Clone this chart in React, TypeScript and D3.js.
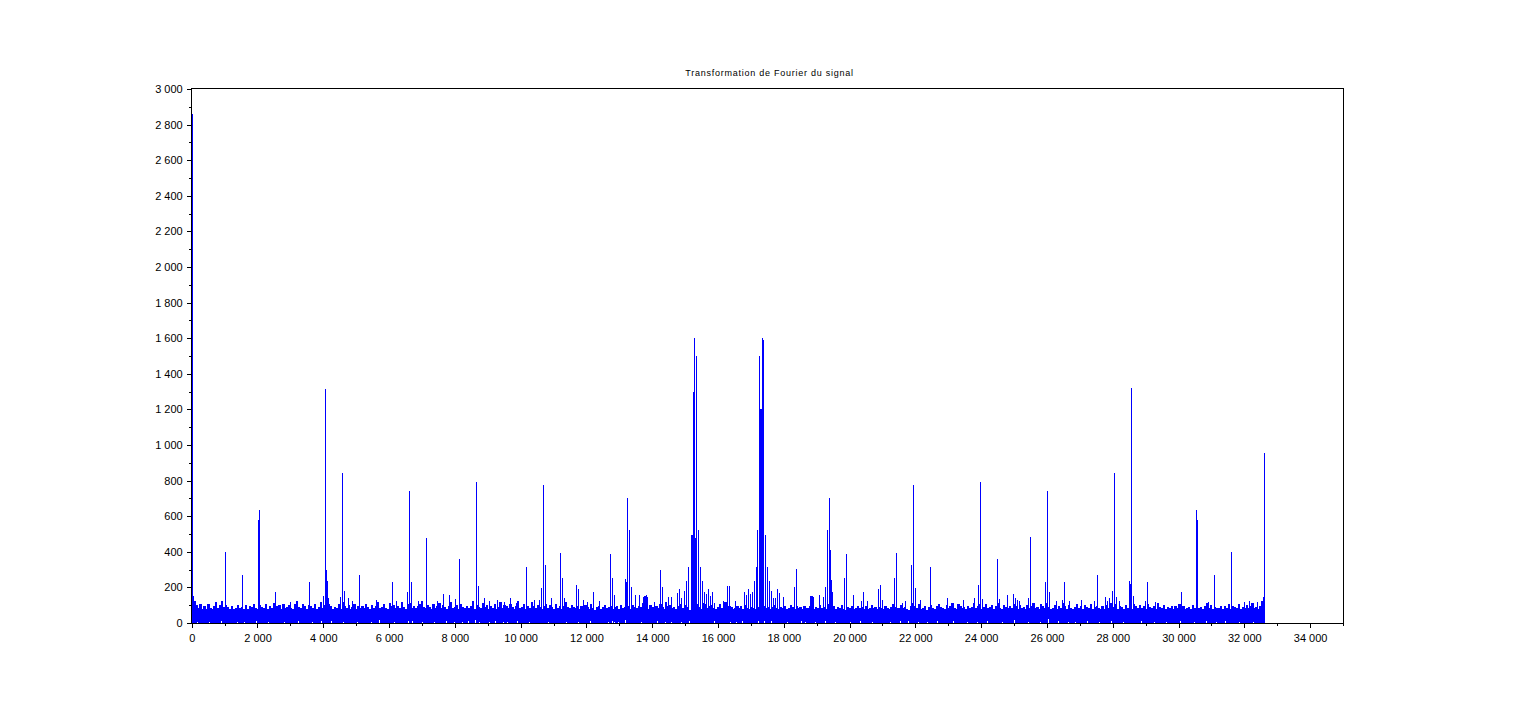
import React, { useEffect, useRef } from 'react';
import * as d3 from 'd3';

const title = 'Transformation de Fourier du signal';
const xTicks = [0, 2000, 4000, 6000, 8000, 10000, 12000, 14000, 16000, 18000, 20000, 22000, 24000, 26000, 28000, 30000, 32000, 34000];
const xMinorTicks = [1000, 3000, 5000, 7000, 9000, 11000, 13000, 15000, 17000, 19000, 21000, 23000, 25000, 27000, 29000, 31000, 33000, 35000];
const yTicks = [0, 200, 400, 600, 800, 1000, 1200, 1400, 1600, 1800, 2000, 2200, 2400, 2600, 2800, 3000];
const yMinorTicks = [100, 300, 500, 700, 900, 1100, 1300, 1500, 1700, 1900, 2100, 2300, 2500, 2700, 2900];

// top of the noise band, one reading every binStep Hz
const binStep = 60;
const noiseTop = [
  150, 122, 100, 84, 104, 78, 94, 80, 106, 86, 76, 98, 118, 82, 102, 124, 92, 100, 88, 80,
  94, 78, 86, 100, 82, 92, 76, 102, 80, 96, 88, 106, 84, 78, 100, 92, 82, 104, 76, 94,
  86, 110, 80, 96, 102, 78, 108, 84, 92, 100, 86, 80, 104, 122, 90, 82, 106, 94, 78, 102,
  96, 84, 108, 80, 92, 116, 86, 100, 82, 104, 94, 78, 92, 86, 104, 80, 118, 96, 84, 102,
  80, 92, 106, 78, 98, 86, 94, 82, 108, 90, 78, 102, 84, 96, 118, 82, 92, 104, 86, 80,
  114, 94, 102, 82, 96, 86, 116, 92, 80, 104, 110, 86, 98, 82, 94, 108, 122, 90, 84, 100,
  92, 80, 104, 86, 96, 110, 82, 100, 88, 78, 94, 118, 84, 92, 102, 80, 108, 90, 82, 98,
  86, 94, 122, 80, 100, 92, 84, 114, 88, 102, 80, 96, 86, 108, 78, 92, 118, 84, 100, 94,
  82, 104, 90, 78, 96, 124, 84, 92, 106, 80, 98, 86, 118, 94, 82, 102, 88, 80, 96, 108,
  84, 100, 92, 78, 104, 86, 96, 80, 94, 118, 88, 82, 102, 92, 84, 98, 80, 94, 86, 100,
  92, 78, 104, 84, 72, 90, 96, 80, 88, 102, 82, 92, 98, 80, 88, 94, 78, 100, 84, 92,
  86, 96, 80, 100, 88, 82, 98, 92, 112, 84, 96, 80, 102, 90, 78, 94, 86, 108, 92, 80,
  118, 96, 102, 84, 90, 78, 96, 106, 86, 82, 100, 92, 72, 82, 94, 84, 104, 92, 80, 114,
  108, 86, 96, 100, 82, 78, 92, 106, 84, 90, 118, 82, 98, 92, 80, 84, 96, 86, 94, 80,
  100, 84, 76, 92, 86, 80, 96, 88, 78, 84, 94, 82, 92, 80, 88, 100, 84, 78, 92, 86,
  96, 80, 84, 102, 88, 78, 94, 84, 92, 80, 98, 86, 82, 96, 88, 80, 92, 84, 100, 82,
  92, 78, 104, 88, 82, 96, 80, 90, 86, 100, 78, 74, 92, 84, 98, 80, 86, 94, 82, 90,
  80, 96, 76, 86, 100, 82, 92, 78, 88, 84, 80, 96, 82, 76, 92, 104, 88, 82, 84, 100,
  86, 92, 80, 74, 94, 110, 98, 86, 104, 78, 84, 96, 72, 92, 100, 84, 80, 96, 108, 88,
  82, 78, 100, 86, 94, 110, 84, 80, 104, 96, 86, 92, 80, 98, 84, 90, 114, 82, 96, 104,
  78, 92, 108, 84, 88, 100, 80, 94, 110, 86, 78, 100, 92, 82, 96, 86, 108, 94, 80, 102,
  86, 92, 78, 100, 82, 96, 110, 84, 90, 78, 104, 94, 82, 114, 92, 80, 86, 100, 78, 94,
  84, 110, 96, 80, 102, 86, 76, 92, 108, 82, 96, 78, 100, 88, 84, 104, 80, 92, 98, 84,
  80, 94, 78, 100, 86, 114, 82, 92, 104, 80, 96, 88, 78, 102, 84, 92, 80, 108, 96, 82,
  100, 86, 94, 78, 104, 88, 82, 96, 80, 110, 92, 84, 100, 78, 90, 86, 98, 80, 94, 82,
  104, 88, 96, 80, 84, 92, 78, 102, 86, 98, 82, 90, 78, 96, 110, 84, 100, 80, 92, 86,
  82, 98, 78, 94, 86, 108, 80, 96, 92, 82, 104, 78, 90, 86, 100, 82, 94, 114, 84, 92,
  80, 98, 122,
];

// lines that stand above the noise band
const spikeFreqs = [
  30, 60, 110, 1015, 1540, 2025, 2055, 2540, 3000, 3575, 4000, 4060, 4090, 4120, 4150, 4520, 4580, 4640,
  4760, 4880, 5095, 5610, 6100, 6220, 6550, 6615, 6675, 6880, 7130, 7480, 7650, 7830, 8010, 8127, 8655, 8715, 8900, 9050,
  9300, 9500, 9690, 9870, 10175, 10420, 10560, 10630, 10692, 10753, 10930, 11208, 11270, 11330, 11695, 11755, 11900, 12030, 12212, 12400,
  12728, 12789, 12850, 13185, 13216, 13246, 13307, 13368, 13490, 13610, 13730, 13760, 13790, 13820, 13850, 14080, 14250, 14310, 14490, 14575,
  14755, 14815, 14875, 14995, 15055, 15115, 15180, 15210, 15245, 15285, 15315, 15345, 15405, 15465, 15525, 15585, 15645, 15705, 15765, 15830, 15890,
  16160, 16220, 16280, 16340, 16520, 16795, 16855, 16915, 16975, 17035, 17095, 17155, 17215, 17275, 17305, 17320, 17350, 17380, 17440, 17500, 17560, 17620, 17680,
  17745, 17805, 17865, 18000, 18320, 18380, 18800, 18830, 18860, 18900, 19080, 19200, 19265, 19325, 19385, 19415, 19445, 19475, 19840, 19900, 20120,
  20360, 20420, 20540, 20875, 20935, 21000, 21360, 21420, 21600, 21700, 21880, 21940, 22000, 22150, 22460, 22975, 23450, 23800, 23915, 23975, 24035,
  24495, 24555, 24800, 24985, 25045, 25105, 25165, 25430, 25500, 25950, 26010, 26070, 26280, 26470, 26530, 26700, 27060, 27440, 27535, 27770, 27830, 27890,
  27990, 28050, 28110, 28200, 28510, 28540, 28570, 28630, 29000, 29055, 29300, 30090, 30540, 30570, 30900, 31090, 31610, 32000, 32150, 32400, 32520, 32580, 32610,
];
const spikeValues = [
  2860, 144, 122, 400, 270, 580, 635, 174, 118, 230, 152, 1315, 298, 236, 140, 146, 840, 180,
  140, 124, 270, 129, 230, 124, 174, 740, 230, 124, 480, 124, 163, 157, 135, 360, 790, 208, 139, 124,
  129, 118, 140, 110, 315, 130, 130, 197, 775, 326, 140, 393, 253, 139, 213, 191, 130, 118, 174, 124,
  388, 253, 157, 247, 230, 700, 525, 202, 157, 157, 148, 150, 150, 155, 148, 120, 298, 202, 146, 146,
  168, 191, 140, 180, 236, 315, 494, 494, 1300, 1600, 475, 1500, 522, 316, 236, 176, 163, 191, 150, 174, 110,
  124, 110, 208, 208, 124, 174, 157, 191, 163, 174, 236, 316, 522, 1500, 1203, 1203, 1600, 1590, 494, 315, 236, 182, 139,
  139, 191, 169, 148, 202, 303, 150, 152, 150, 148, 157, 146, 202, 525, 700, 410, 242, 174, 253, 388, 157,
  124, 174, 124, 191, 213, 130, 253, 393, 110, 124, 326, 775, 197, 130, 315, 140, 130, 140, 213, 790, 135,
  360, 135, 157, 163, 140, 130, 124, 140, 485, 230, 740, 174, 124, 130, 230, 124, 130, 124, 270, 146, 124, 139,
  180, 840, 146, 124, 236, 219, 1320, 152, 124, 230, 118, 174, 635, 580, 118, 270, 400, 118, 125, 118, 118, 148, 955,
];

// white specks along the bottom of the band
const gapFreqs = [
  180, 540, 900, 1380, 1620, 1980, 2340, 2820, 3240, 3660, 3960, 4260, 4620, 5040, 5460, 5700, 6180, 6600, 6720, 7020,
  7380, 7740, 7980, 8220, 8400, 8640, 8760, 9060, 9240, 9480, 9600, 9900, 10260, 10680, 10860, 11220, 11400, 11760, 12120, 12660,
  12780, 12840, 12960, 13200, 13260, 13320, 13680, 14160, 14400, 14580, 14880, 15120, 15240, 15300, 15360, 15900, 16380, 16560, 16740, 17220,
  17280, 17340, 17400, 17640, 18120, 18540, 18660, 18960, 19260, 19320, 19380, 19560, 20040, 20340, 20700, 21240, 21540, 21780, 22080, 22380,
  22680, 23160, 23580, 23880, 24180, 24660, 25020, 25440, 25800, 26040, 26340, 26640, 26880, 27240, 27600, 27960, 28320, 28560, 28860, 29280,
  29640, 30060, 30480, 30840, 31140, 31440, 31860, 32280,
];
const gapHeights = [
  8, 6, 10, 6, 8, 12, 6, 8, 10, 6, 12, 10, 8, 6, 8, 16, 6, 12, 10, 6,
  8, 10, 6, 8, 12, 16, 8, 6, 10, 8, 6, 10, 8, 12, 6, 10, 8, 6, 10, 8,
  12, 8, 6, 16, 22, 16, 8, 10, 6, 8, 8, 12, 22, 28, 18, 12, 8, 6, 10, 12,
  28, 22, 14, 12, 6, 10, 8, 6, 12, 20, 28, 8, 6, 10, 8, 6, 10, 12, 6, 8,
  10, 12, 8, 6, 10, 8, 16, 6, 8, 24, 10, 8, 6, 12, 8, 10, 6, 20, 12, 8,
  6, 10, 8, 12, 6, 10, 8, 6,
];

const WIDTH = 1536;
const HEIGHT = 713;
const LEFT = 191.7;
const RIGHT = 1343;
const TOP = 89;
const BOTTOM = 623;
const BLUE = '#0000ff';
const FONT = '"Liberation Sans", Arial, sans-serif';

const spaced = d3.formatLocale({ decimal: ',', thousands: ' ', grouping: [3], currency: ['', ''] }).format(',d');

const App: React.FC = () => {
  const svgRef = useRef<SVGSVGElement>(null);

  useEffect(() => {
    if (!svgRef.current) return;
    const svg = d3.select(svgRef.current);
    svg.selectAll('*').remove();

    const x = d3.scaleLinear().domain([0, 35000]).range([LEFT, RIGHT]);
    const y = d3.scaleLinear().domain([0, 3000]).range([BOTTOM, TOP]);

    svg.append('rect').attr('width', WIDTH).attr('height', HEIGHT).attr('fill', '#ffffff');

    // noise band
    svg.append('g')
      .attr('stroke', BLUE)
      .attr('stroke-width', 2.2)
      .attr('shape-rendering', 'crispEdges')
      .selectAll('line')
      .data(noiseTop)
      .join('line')
      .attr('x1', (_, i) => x(i * binStep) + 1)
      .attr('x2', (_, i) => x(i * binStep) + 1)
      .attr('y1', y(0))
      .attr('y2', d => y(d));

    // specks
    svg.append('g')
      .attr('stroke', '#ffffff')
      .attr('stroke-width', 1)
      .attr('shape-rendering', 'crispEdges')
      .selectAll('line')
      .data(gapHeights)
      .join('line')
      .attr('x1', (_, i) => x(gapFreqs[i]))
      .attr('x2', (_, i) => x(gapFreqs[i]))
      .attr('y1', y(0))
      .attr('y2', d => y(d));

    // peaks
    svg.append('g')
      .attr('stroke', BLUE)
      .attr('stroke-width', 1)
      .attr('shape-rendering', 'crispEdges')
      .selectAll('line')
      .data(spikeValues)
      .join('line')
      .attr('x1', (_, i) => x(spikeFreqs[i]))
      .attr('x2', (_, i) => x(spikeFreqs[i]))
      .attr('y1', d => y(d > 300 ? 0 : 60))
      .attr('y2', d => y(d));

    // axes
    const xAxis = svg.append('g')
      .attr('transform', `translate(0, ${BOTTOM})`)
      .call(d3.axisBottom(x).tickValues(xTicks).tickSize(5).tickPadding(6).tickFormat(d => spaced(d as number)));
    svg.append('g')
      .attr('transform', `translate(0, ${BOTTOM})`)
      .call(d3.axisBottom(x).tickValues(xMinorTicks).tickSize(3).tickFormat(() => ''));

    const yAxis = svg.append('g')
      .attr('transform', `translate(${LEFT}, 0)`)
      .call(d3.axisLeft(y).tickValues(yTicks).tickSize(5).tickPadding(4).tickFormat(d => spaced(d as number)));
    svg.append('g')
      .attr('transform', `translate(${LEFT}, 0)`)
      .call(d3.axisLeft(y).tickValues(yMinorTicks).tickSize(3).tickFormat(() => ''));

    svg.selectAll('.domain').remove();
    svg.selectAll('.tick line').attr('stroke', '#000').attr('shape-rendering', 'crispEdges');
    [xAxis, yAxis].forEach(a => a.selectAll('text').attr('fill', '#000').attr('font-size', 11).attr('font-family', FONT));

    svg.append('rect')
      .attr('x', Math.floor(LEFT) + 0.5)
      .attr('y', TOP - 0.5)
      .attr('width', RIGHT - Math.floor(LEFT))
      .attr('height', BOTTOM - TOP + 1)
      .attr('fill', 'none')
      .attr('stroke', '#000')
      .attr('stroke-width', 1);

    svg.append('text')
      .attr('x', 769.5)
      .attr('y', 76)
      .attr('text-anchor', 'middle')
      .attr('font-size', 9)
      .attr('letter-spacing', 0.75)
      .attr('font-family', FONT)
      .attr('fill', '#000')
      .text(title);
  }, []);

  return <svg ref={svgRef} width={WIDTH} height={HEIGHT} style={{ position: 'absolute', left: 0, top: 0, display: 'block' }} />;
};

export default App;
